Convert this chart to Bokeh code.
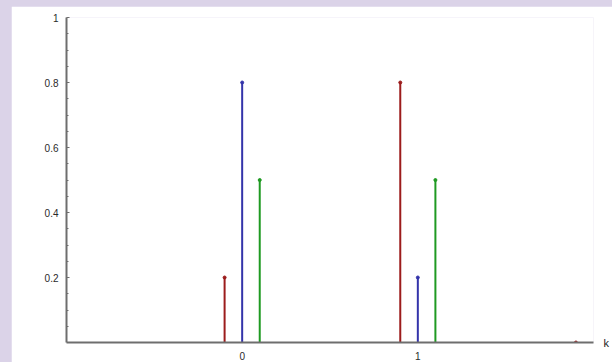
from bokeh.plotting import figure
from bokeh.models import (ColumnDataSource, FixedTicker, LinearAxis, Range1d, Spacer)
from bokeh.layouts import row, column
from bokeh.transform import dodge
from bokeh.embed import file_html
from bokeh.resources import INLINE

# ---- data ----
k_red = [0, 1, 2]
red_vals = [0.2, 0.8, 0.0]
k_blue = [0, 1]
blue_vals = [0.8, 0.2]
k_green = [0, 1]
green_vals = [0.5, 0.5]

y_ticks = [0.2, 0.4, 0.6, 0.8, 1.0]
y_tick_labels = ["0.2", "0.4", "0.6", "0.8", "1"]
y_minor = [0.05, 0.1, 0.15, 0.25, 0.3, 0.35, 0.45, 0.5, 0.55, 0.65, 0.7, 0.75,
           0.85, 0.9, 0.95]
x_ticks = [0, 1]
x_label = "k"

RED = "#9c1c1c"
BLUE = "#3434aa"
GREEN = "#1f9a22"
AXIS = "#6e6e6e"
LAV = "#dbd3e8"
FONT = "Liberation Sans"
LABEL_COLOR = "#2a2a2a"

fig = figure(width=601, height=356, output_backend="svg", toolbar_location=None,
             x_range=Range1d(-1, 2), y_range=Range1d(0, 1),
             min_border_left=55, min_border_right=18,
             min_border_top=11, min_border_bottom=20,
             background_fill_color="white", border_fill_color="white",
             outline_line_color=None)
fig.grid.visible = False

series = [(k_red, red_vals, RED, -0.1),
          (k_blue, blue_vals, BLUE, 0.0),
          (k_green, green_vals, GREEN, 0.1)]
for ks, vals, col, off in series:
    src = ColumnDataSource(dict(k=ks, v=vals, z=[0.0] * len(ks)))
    xs = dodge("k", off, range=fig.x_range)
    fig.segment(x0=xs, y0="z", x1=xs, y1="v", source=src,
                line_color=col, line_width=2)
    fig.scatter(x=xs, y="v", source=src, size=3, marker="circle",
                fill_color=col, line_color=col)

# y axis
ya = fig.yaxis[0]
ya.ticker = FixedTicker(ticks=y_ticks, minor_ticks=y_minor)
ya.major_label_overrides = {t: l for t, l in zip(y_ticks, y_tick_labels)}
ya.axis_line_color = AXIS
ya.axis_line_width = 2
ya.major_tick_in = 3
ya.major_tick_out = 0
ya.minor_tick_in = 2
ya.minor_tick_out = 0
ya.major_tick_line_color = AXIS
ya.minor_tick_line_color = AXIS
ya.major_label_standoff = 8
ya.major_label_text_font = FONT
ya.major_label_text_font_size = "10px"
ya.major_label_text_color = LABEL_COLOR

# x axis
xa = fig.xaxis[0]
xa.ticker = FixedTicker(ticks=x_ticks, minor_ticks=[])
xa.axis_line_color = AXIS
xa.axis_line_width = 2
xa.major_tick_in = 0
xa.major_tick_out = 0
xa.minor_tick_in = 0
xa.minor_tick_out = 0
xa.major_label_standoff = 9
xa.major_label_text_font = FONT
xa.major_label_text_font_size = "10px"
xa.major_label_text_color = LABEL_COLOR

# "k" label at the right end of the horizontal axis (right axis, one label at y=0)
ka = LinearAxis(ticker=FixedTicker(ticks=[0], minor_ticks=[]),
                major_label_overrides={0: x_label},
                axis_line_color=None, major_tick_line_color=None,
                minor_tick_line_color=None,
                major_tick_in=0, major_tick_out=0,
                minor_tick_in=0, minor_tick_out=0,
                major_label_standoff=10,
                major_label_text_font=FONT, major_label_text_font_size="11px",
                major_label_text_color="#222222")
fig.add_layout(ka, "right")

p = column([Spacer(height=6, width=612),
            row([Spacer(width=11, height=356), fig])],
           styles={"background-color": LAV})

open("out.html", "w").write(file_html(p, INLINE))
